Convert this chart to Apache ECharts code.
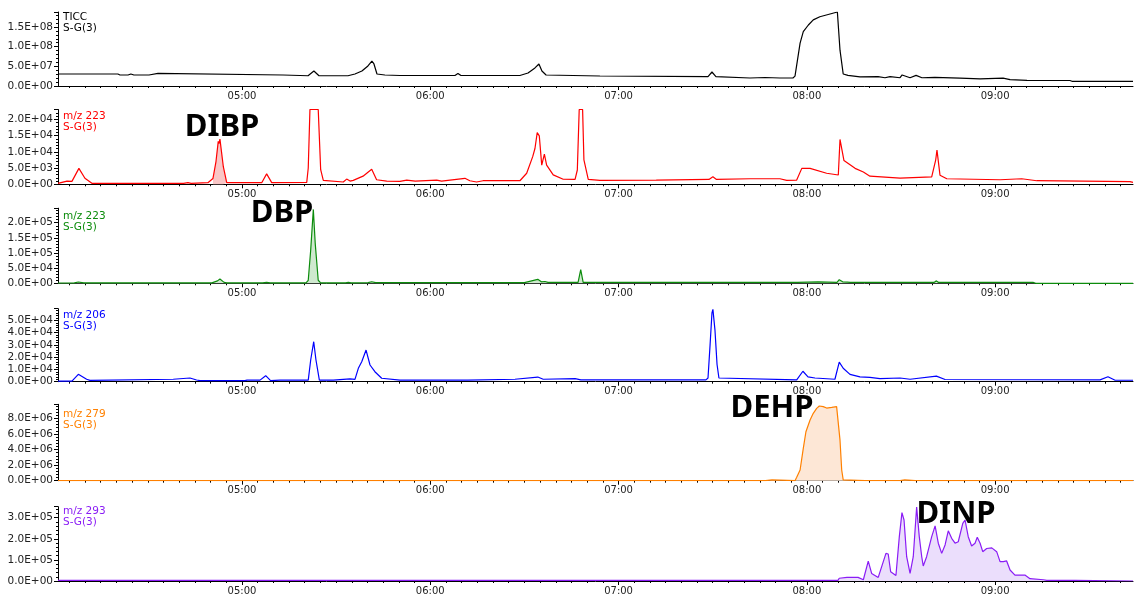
<!DOCTYPE html>
<html>
<head>
<meta charset="utf-8">
<script src="https://cdn.jsdelivr.net/npm/echarts@6/dist/echarts.min.js"></script>
<style>
  html, body { margin: 0; padding: 0; background: #fff; }
  #chart { width: 1134px; height: 596px; }
</style>
</head>
<body>
<div id="chart"></div>
<script>
// time axis, minutes
const timeMin = 4.023;
const timeMax = 9.732;
const minuteTicks = [5, 6, 7, 8, 9];
const minuteLabels = ['05:00', '06:00', '07:00', '08:00', '09:00'];

const traceNames = ['TICC', 'm/z 223', 'm/z 223', 'm/z 206', 'm/z 279', 'm/z 293'];
const smoothingLabel = 'S-G(3)';
const compoundNames = ['DIBP', 'DBP', 'DEHP', 'DINP'];

// [minutes, intensity]
const ticcData = [
  [4.023, 3.05e7], [4.341, 3.05e7], [4.352, 2.8e7], [4.395, 2.8e7], [4.410, 3.05e7], [4.426, 2.8e7],
  [4.506, 2.8e7], [4.511, 3.2e7], [4.554, 3.2e7], [4.559, 2.8e7], [5.218, 2.8e7], [5.228, 2.6e7],
  [5.351, 2.6e7], [5.382, 3.8e7], [5.409, 2.6e7], [5.563, 2.6e7], [5.600, 3.05e7], [5.637, 3.8e7],
  [5.669, 5.1e7], [5.690, 6.35e7], [5.701, 5.6e7], [5.717, 3.05e7], [5.759, 2.8e7], [5.839, 2.67e7],
  [6.131, 2.67e7], [6.147, 3.2e7], [6.163, 2.67e7], [6.476, 2.67e7], [6.519, 3.3e7], [6.556, 4.6e7],
  [6.577, 5.6e7], [6.593, 3.8e7], [6.615, 2.8e7], [6.901, 2.54e7], [7.475, 2.4e7], [7.496, 3.56e7],
  [7.517, 2.4e7], [7.698, 2.03e7], [7.778, 2.16e7], [7.857, 2.03e7], [7.926, 2.03e7], [7.937, 2.5e7],
  [7.964, 10.9e7], [7.981, 13.8e7], [8.008, 15.5e7], [8.034, 16.8e7], [8.069, 17.6e7], [8.123, 18.3e7],
  [8.162, 18.8e7], [8.167, 18.8e7], [8.176, 9.1e7], [8.193, 3.05e7], [8.218, 2.7e7], [8.282, 2.3e7],
  [8.378, 2.4e7], [8.415, 2.1e7], [8.442, 2.4e7], [8.495, 2.1e7], [8.506, 2.8e7], [8.548, 2.1e7],
  [8.580, 2.7e7], [8.611, 2.1e7], [8.680, 2.2e7], [8.813, 2.0e7], [8.920, 1.8e7], [9.042, 2.0e7],
  [9.079, 1.6e7], [9.169, 1.45e7], [9.397, 1.4e7], [9.408, 1.2e7], [9.706, 1.2e7], [9.716, 1.35e7],
  [9.732, 1.2e7]
];

const mz223RedData = [
  [4.023, 300], [4.071, 1000], [4.097, 900], [4.134, 4900], [4.166, 1850], [4.203, 300], [4.690, 300],
  [4.700, 500], [4.713, 500], [4.730, 300], [4.819, 500], [4.846, 1800], [4.862, 7000], [4.874, 13200],
  [4.878, 12500], [4.883, 13900], [4.901, 5400], [4.919, 500], [5.105, 500], [5.131, 3200], [5.158, 500],
  [5.344, 600], [5.352, 5000], [5.361, 23000], [5.405, 23000], [5.418, 4500], [5.432, 1200], [5.538, 700],
  [5.556, 1600], [5.574, 1000], [5.591, 1200], [5.643, 2500], [5.689, 4600], [5.715, 1400], [5.769, 1000],
  [5.839, 900], [5.875, 1300], [5.920, 1000], [6.034, 1300], [6.060, 1000], [6.184, 1850], [6.210, 1100],
  [6.246, 700], [6.280, 1100], [6.476, 1100], [6.512, 3400], [6.544, 8500], [6.556, 11000], [6.568, 15900],
  [6.579, 14900], [6.592, 5900], [6.606, 9300], [6.618, 5900], [6.653, 2900], [6.706, 1550], [6.769, 1500],
  [6.781, 4400], [6.791, 23000], [6.809, 23000], [6.816, 7500], [6.839, 1500], [6.901, 1200], [7.200, 1300],
  [7.480, 1500], [7.501, 2300], [7.520, 1500], [7.700, 1700], [7.857, 1700], [7.893, 1200], [7.946, 1300],
  [7.973, 4900], [8.017, 4900], [8.105, 3400], [8.167, 2850], [8.176, 13800], [8.185, 13200], [8.197, 7300],
  [8.256, 4900], [8.300, 3800], [8.335, 2500], [8.495, 1900], [8.663, 2300], [8.684, 7400], [8.691, 10500],
  [8.707, 2800], [8.743, 1700], [9.026, 1400], [9.141, 1700], [9.221, 1100], [9.716, 800], [9.732, 600]
];

const mz223GreenData = [
  [4.023, 1000], [4.110, 1500], [4.131, 4400], [4.160, 1500], [4.840, 1500], [4.870, 8000], [4.883, 14000],
  [4.905, 3000], [4.920, 1500], [5.110, 1500], [5.131, 3000], [5.150, 1500], [5.340, 1500], [5.352, 10000],
  [5.365, 110000], [5.379, 244000], [5.389, 132000], [5.405, 10000], [5.418, 1500], [5.550, 1500],
  [5.565, 3000], [5.580, 1500], [5.670, 2000], [5.689, 5000], [5.710, 2000], [6.500, 2000], [6.571, 13000],
  [6.590, 5000], [6.609, 6000], [6.625, 3000], [6.785, 3000], [6.799, 45000], [6.812, 3000], [7.950, 3000],
  [7.960, 5000], [8.060, 5000], [8.070, 3000], [8.160, 3000], [8.172, 12000], [8.190, 5000], [8.215, 4000],
  [8.230, 3000], [8.675, 3000], [8.688, 8000], [8.700, 3000], [9.201, 3000], [9.215, 0], [9.732, 0]
];

const mz206Data = [
  [4.023, 500], [4.097, 500], [4.131, 6000], [4.175, 2000], [4.193, 1100], [4.635, 2000], [4.724, 3000],
  [4.759, 1400], [4.777, 900], [5.016, 900], [5.027, 1300], [5.096, 1300], [5.126, 4900], [5.152, 900],
  [5.202, 1300], [5.352, 1300], [5.365, 17700], [5.381, 32600], [5.393, 17700], [5.411, 1300], [5.485, 1300],
  [5.574, 2300], [5.600, 1900], [5.618, 10900], [5.636, 16300], [5.659, 25800], [5.668, 25000], [5.680, 13600],
  [5.706, 8150], [5.742, 2800], [5.839, 1300], [6.200, 1300], [6.450, 2000], [6.571, 3800], [6.600, 2000],
  [6.769, 2500], [6.800, 1500], [7.464, 1500], [7.475, 3000], [7.486, 30000], [7.496, 56000], [7.501, 59000],
  [7.512, 42000], [7.523, 14000], [7.533, 3000], [7.539, 1500], [7.946, 1500], [7.979, 8500], [8.006, 4000],
  [8.043, 3000], [8.149, 2000], [8.172, 16000], [8.193, 11000], [8.229, 6000], [8.282, 4000], [8.335, 3500],
  [8.388, 2500], [8.495, 3000], [8.548, 2000], [8.688, 4500], [8.734, 1800], [9.557, 1500], [9.599, 4000],
  [9.637, 1200], [9.732, 1200]
];

const mz279Data = [
  [4.023, 0], [7.780, 0], [7.788, 1.0e5], [7.815, 1.0e5], [7.820, 0], [7.937, 0], [7.946, 4.35e5],
  [7.964, 1.37e6], [7.981, 4.15e6], [7.995, 6.28e6], [8.017, 7.78e6], [8.034, 8.64e6], [8.052, 9.28e6],
  [8.066, 9.58e6], [8.087, 9.50e6], [8.105, 9.32e6], [8.132, 9.40e6], [8.158, 9.50e6], [8.167, 9.45e6],
  [8.176, 5.2e6], [8.185, 1.37e6], [8.193, 1.0e5], [8.200, 0], [8.310, 0], [8.318, 1.0e5], [8.330, 0],
  [8.410, 0], [8.415, 1.0e5], [8.425, 0], [8.495, 0], [8.500, 1.0e5], [8.520, 1.0e5], [8.530, 0],
  [8.575, 0], [8.583, 8.0e4], [8.590, 0], [9.732, 0]
];

const mz293Data = [
  [4.023, 3000], [8.165, 3000], [8.172, 13000], [8.180, 5000], [8.213, 17000], [8.272, 17000], [8.300, 6000],
  [8.326, 94000], [8.344, 36000], [8.379, 17000], [8.420, 131000], [8.432, 128000], [8.445, 44000],
  [8.473, 26000], [8.491, 210000], [8.505, 324000], [8.516, 289000], [8.530, 115000], [8.548, 36000],
  [8.565, 115000], [8.583, 350000], [8.597, 210000], [8.610, 115000], [8.618, 71000], [8.636, 115000],
  [8.663, 210000], [8.681, 261000], [8.698, 179000], [8.716, 131000], [8.734, 171000], [8.751, 238000],
  [8.769, 202000], [8.787, 179000], [8.804, 186000], [8.828, 273000], [8.840, 289000], [8.857, 210000],
  [8.875, 166000], [8.893, 179000], [8.905, 207000], [8.920, 179000], [8.934, 139000], [8.955, 154000],
  [8.982, 157000], [9.008, 139000], [9.026, 92000], [9.043, 92000], [9.061, 95000], [9.079, 52000],
  [9.105, 28000], [9.158, 28000], [9.185, 11000], [9.256, 6000], [9.274, 3000], [9.424, 3000],
  [9.430, 0], [9.732, 0]
];

// DIBP integration window (minutes)
const dibpWindow = [4.84, 4.925];

// panel layout / style
const panels = [
  { data: ticcData,       color: '#000000', fill: null,      top: 12,    height: 74,   max: 1.88e8, interval: 5e7, labelY: 16 },
  { data: mz223RedData,   color: '#ff0000', fill: null,      top: 109.5, height: 74.8, max: 23000,  interval: 5e3, labelY: 115.7 },
  { data: mz223GreenData, color: '#0c8c0c', fill: '#cfe9cf', top: 208.2, height: 75.1, max: 2.48e5, interval: 5e4, labelY: 215 },
  { data: mz206Data,      color: '#0000ff', fill: null,      top: 308.7, height: 73,   max: 5.95e4, interval: 1e4, labelY: 314 },
  { data: mz279Data,      color: '#ff8000', fill: '#fde7d6', top: 404.3, height: 76.4, max: 9.8e6,  interval: 2e6, labelY: 413.3 },
  { data: mz293Data,      color: '#8a1cf5', fill: '#ebdefc', top: 506.7, height: 74.3, max: 3.52e5, interval: 1e5, labelY: 510.7 }
];

const annotations = [
  { text: compoundNames[0], x: 222, y: 127 },
  { text: compoundNames[1], x: 282, y: 213 },
  { text: compoundNames[2], x: 772, y: 408 },
  { text: compoundNames[3], x: 956, y: 514 }
];

// 5-second minor ticks
const minorTickTimes = [];
for (let k = 49; k <= 116; k++) minorTickTimes.push(k / 12);

function sciLabel(v) {
  v = Math.round(v);
  if (v === 0) return '0.0E+00';
  let e = Math.floor(Math.log10(v) + 1e-9);
  let s = (v / Math.pow(10, e)).toFixed(1);
  if (s === '10.0') { s = '1.0'; e++; }
  return s + 'E+' + String(e).padStart(2, '0');
}

const labelFont = 'DejaVu Sans, Liberation Sans, sans-serif';
const grid = [], xAxis = [], yAxis = [], series = [], graphic = [];

panels.forEach((p, i) => {
  grid.push({ left: 58, right: 1, top: p.top, height: p.height });
  // minor ticks + axis line
  xAxis.push({
    type: 'value', gridIndex: i, position: 'bottom', min: timeMin, max: timeMax,
    axisLine: { show: true, onZero: false, lineStyle: { color: '#000', width: 1 } },
    axisTick: { show: true, length: 2, customValues: minorTickTimes, lineStyle: { color: '#000' } },
    axisLabel: { show: false },
    splitLine: { show: false }
  });
  // minute ticks + labels
  xAxis.push({
    type: 'value', gridIndex: i, position: 'bottom', min: timeMin, max: timeMax,
    axisLine: { show: false, onZero: false },
    axisTick: { show: true, length: 4, customValues: minuteTicks, lineStyle: { color: '#000' } },
    axisLabel: {
      show: true, customValues: minuteTicks, margin: 5, fontSize: 10, color: '#222', fontFamily: labelFont,
      formatter: v => minuteLabels[minuteTicks.indexOf(Math.round(v))]
    },
    splitLine: { show: false }
  });
  yAxis.push({
    type: 'value', gridIndex: i, min: 0, max: p.max, interval: p.interval,
    axisLine: { show: true, lineStyle: { color: '#000', width: 1 } },
    axisTick: { show: true, length: 4, lineStyle: { color: '#000' } },
    minorTick: { show: true, splitNumber: 5, length: 2, lineStyle: { color: '#000' } },
    axisLabel: { formatter: sciLabel, fontSize: 10.5, color: '#222', margin: 5, fontFamily: labelFont, showMaxLabel: false },
    splitLine: { show: false }
  });

  if (i === 1) {
    // shaded DIBP peak
    series.push({
      type: 'line', xAxisIndex: 2 * i, yAxisIndex: i, symbol: 'none', silent: true,
      data: p.data.filter(d => d[0] >= dibpWindow[0] && d[0] <= dibpWindow[1]),
      lineStyle: { opacity: 0 }, areaStyle: { color: '#f9c6c6', opacity: 1 }
    });
  }
  series.push({
    type: 'line', xAxisIndex: 2 * i, yAxisIndex: i, symbol: 'none', showSymbol: false,
    data: p.data, clip: true,
    lineStyle: { color: p.color, width: 1.2 },
    areaStyle: p.fill ? { color: p.fill, opacity: 1 } : undefined,
    z: 3
  });

  graphic.push({
    type: 'text', x: 63, y: p.labelY - 4.5,
    style: {
      text: traceNames[i] + '\n' + smoothingLabel, fill: p.color,
      font: '10.5px ' + labelFont, lineHeight: 11,
      align: 'left', verticalAlign: 'top', textAlign: 'left', textVerticalAlign: 'top'
    },
    z: 10
  });
});

annotations.forEach(a => {
  graphic.push({
    type: 'text', x: a.x, y: a.y,
    style: {
      text: a.text, fill: '#000', font: 'bold 31px "Noto Sans", "Open Sans", sans-serif',
      align: 'center', verticalAlign: 'middle', textAlign: 'center', textVerticalAlign: 'middle'
    },
    z: 20
  });
});

const chart = echarts.init(document.getElementById('chart'));
chart.setOption({
  animation: false,
  backgroundColor: '#fff',
  grid, xAxis, yAxis, series, graphic
});
</script>
</body>
</html>
